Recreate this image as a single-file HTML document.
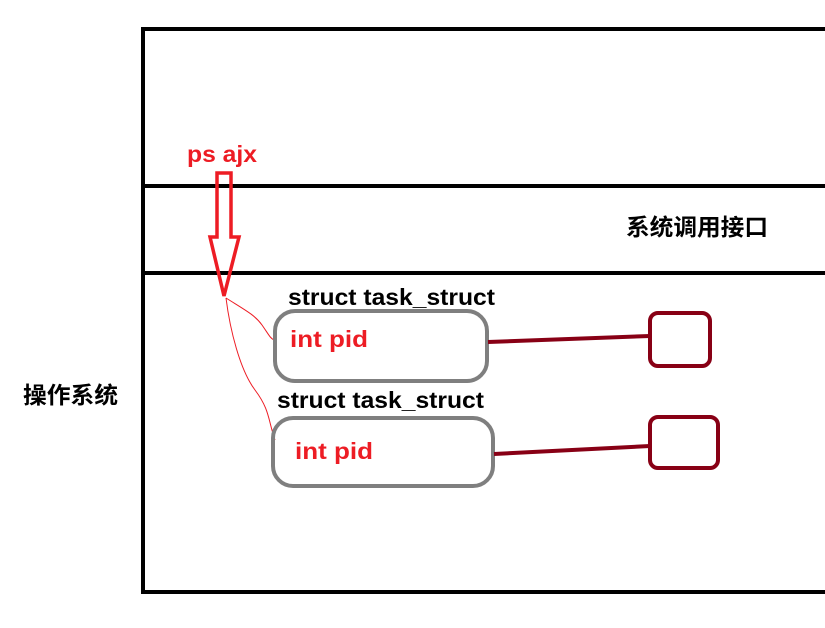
<!DOCTYPE html>
<html><head><style>
body{margin:0;background:#fff;}
svg{display:block;}
text{font-family:"Liberation Sans","Noto Sans CJK SC",sans-serif;font-weight:bold;}
</style></head><body>
<svg width="825" height="628" viewBox="0 0 825 628">
<rect x="0" y="0" width="825" height="628" fill="#fff"/>
<path d="M830 29 H143 V592 H830" fill="none" stroke="#000" stroke-width="4"/>
<line x1="143" y1="186" x2="825" y2="186" stroke="#000" stroke-width="4"/>
<line x1="143" y1="273" x2="825" y2="273" stroke="#000" stroke-width="4"/>
<text x="626" y="235" font-size="23" fill="#000" textLength="142" lengthAdjust="spacingAndGlyphs">系统调用接口</text>
<text x="23" y="403" font-size="23" fill="#000" textLength="95" lengthAdjust="spacingAndGlyphs">操作系统</text>
<text x="187" y="162" font-size="23" fill="#ed1c24" textLength="70" lengthAdjust="spacingAndGlyphs">ps ajx</text>
<path d="M217 173 H231 V237 H239 L224 296 L210 237 H217 Z" fill="none" stroke="#ed1c24" stroke-width="3.5"/>
<path d="M226 298 C245 310 255 315 262 325 S270 338 274 340" fill="none" stroke="#ed1c24" stroke-width="1"/>
<path d="M226 298 C230 330 240 370 255 390 S268 420 275 440" fill="none" stroke="#ed1c24" stroke-width="1"/>
<text x="288" y="305" font-size="23" fill="#000" textLength="207" lengthAdjust="spacingAndGlyphs">struct task_struct</text>
<rect x="275" y="311" width="212" height="70" rx="20" fill="none" stroke="#7f7f7f" stroke-width="4"/>
<text x="290" y="347" font-size="23" fill="#ed1c24" textLength="78" lengthAdjust="spacingAndGlyphs">int pid</text>
<text x="277" y="408" font-size="23" fill="#000" textLength="207" lengthAdjust="spacingAndGlyphs">struct task_struct</text>
<rect x="273" y="418" width="220" height="68" rx="20" fill="none" stroke="#7f7f7f" stroke-width="4"/>
<text x="295" y="459" font-size="23" fill="#ed1c24" textLength="78" lengthAdjust="spacingAndGlyphs">int pid</text>
<line x1="488" y1="342" x2="650" y2="336" stroke="#880015" stroke-width="4"/>
<line x1="494" y1="454" x2="650" y2="446" stroke="#880015" stroke-width="4"/>
<rect x="650" y="313" width="60" height="53" rx="8" fill="none" stroke="#880015" stroke-width="4"/>
<rect x="650" y="417" width="68" height="51" rx="8" fill="none" stroke="#880015" stroke-width="4"/>
</svg>
</body></html>
